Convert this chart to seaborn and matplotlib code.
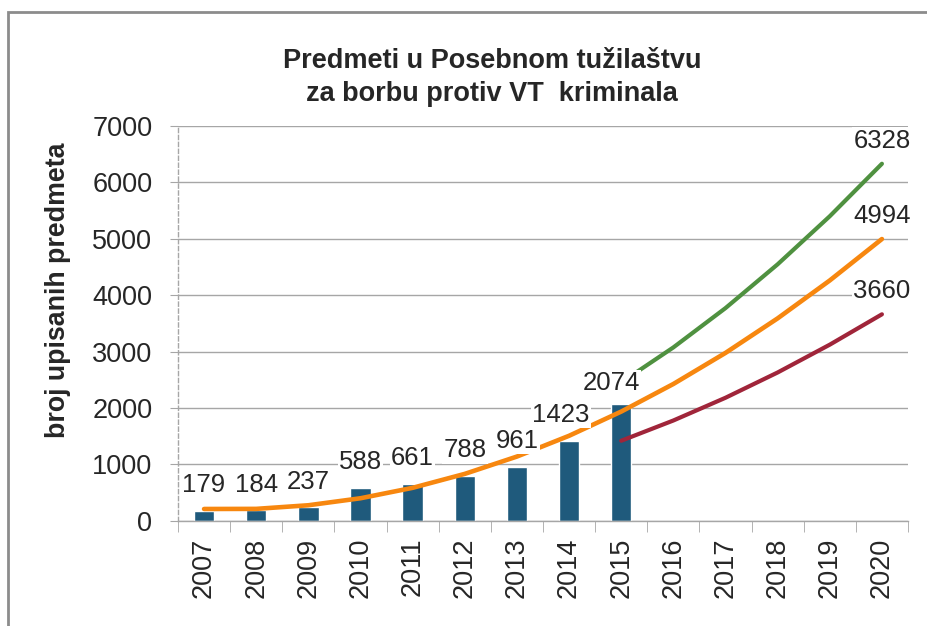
import pandas as pd
import numpy as np
import matplotlib
matplotlib.use("Agg")
import matplotlib.pyplot as plt
import seaborn as sns
from matplotlib.patches import Rectangle
from matplotlib.ticker import MultipleLocator

# ---------------------------------------------------
# DATA
# ---------------------------------------------------

all_years = ["2007", "2008", "2009", "2010", "2011", "2012", "2013",
             "2014", "2015", "2016", "2017", "2018", "2019", "2020"]

bar_years = ["2007", "2008", "2009", "2010", "2011", "2012", "2013",
             "2014", "2015"]
bar_values = [179, 184, 237, 588, 661, 788, 961, 1423, 2074]

# trend (middle)
trend_values = [210, 212, 276, 400, 585, 832, 1139, 1507, 1936,
                2425, 2976, 3588, 4260, 4994]

# upper / lower projection, 2015 - 2020
proj_years = ["2015", "2016", "2017", "2018", "2019", "2020"]
upper_values = [2452, 3073, 3770, 4546, 5398, 6328]
lower_values = [1419, 1778, 2181, 2629, 3122, 3660]

title = "Predmeti u Posebnom tužilaštvu\nza borbu protiv VT  kriminala"
ylabel = "broj upisanih predmeta"

# ---------------------------------------------------
# STYLE
# ---------------------------------------------------

sns.set_style("white")
plt.rcParams["font.family"] = ["Liberation Sans", "DejaVu Sans"]

bar_color = "#1f5a7c"
trend_color = "#f7870f"
upper_color = "#4f9140"
lower_color = "#a0253a"
grid_color = "#a6a6a6"

# labels moved aside so they do not sit on the lines (points)
label_nudge = {"2014": (-6, 0), "2015": (-7, -4)}

fig = plt.figure(figsize=(9.27, 6.26), dpi=100)
ax = fig.add_axes([0.192, 0.168, 0.7875, 0.631])

# ---------------------------------------------------
# BARS
# ---------------------------------------------------

df_bars = pd.DataFrame({"year": bar_years, "value": bar_values})

sns.barplot(
    data=df_bars,
    x="year",
    y="value",
    order=all_years,
    color=bar_color,
    saturation=1,
    width=0.39,
    ax=ax,
    zorder=2
)

# ---------------------------------------------------
# LINES
# ---------------------------------------------------

trend_pos = [all_years.index(y) for y in all_years]
proj_pos = [all_years.index(y) for y in proj_years]

sns.lineplot(x=trend_pos, y=trend_values, color=trend_color,
             linewidth=3.3, ax=ax, zorder=3)
sns.lineplot(x=proj_pos, y=upper_values, color=upper_color,
             linewidth=3, ax=ax, zorder=3)
sns.lineplot(x=proj_pos, y=lower_values, color=lower_color,
             linewidth=3, ax=ax, zorder=3)

# ---------------------------------------------------
# LABELS
# ---------------------------------------------------

box = dict(facecolor="white", edgecolor="none", pad=1)

for year, value in zip(bar_years, bar_values):
    dx, dy = label_nudge.get(year, (0, 0))
    ax.annotate(str(value), (all_years.index(year), value),
                xytext=(dx, 10 + dy), textcoords="offset points",
                ha="center", va="bottom", fontsize=18.5,
                bbox=box, zorder=5)

for series in [upper_values, trend_values, lower_values]:
    ax.annotate(str(series[-1]), (len(all_years) - 1, series[-1]),
                xytext=(0, 8), textcoords="offset points",
                ha="center", va="bottom", fontsize=18.5,
                bbox=box, zorder=5)

# ---------------------------------------------------
# AXES
# ---------------------------------------------------

ax.set_xlim(-0.5, len(all_years) - 0.5)
ax.set_ylim(0, 7000)
ax.yaxis.set_major_locator(MultipleLocator(1000))

ax.set_xticks(range(len(all_years)))
ax.set_xticklabels(all_years, rotation=90, fontsize=19.5)
ax.set_xticks(np.arange(-0.5, len(all_years)), minor=True)
ax.tick_params(axis="x", which="major", length=0, pad=12)
ax.tick_params(axis="x", which="minor", length=8, color=grid_color,
               direction="out", bottom=True)
ax.tick_params(axis="y", length=6, color=grid_color, direction="out",
               labelsize=19.5, pad=12.5, left=True)

ax.set_xlabel("")
ax.set_ylabel(ylabel, fontsize=19.3, fontweight="bold")
ax.yaxis.set_label_coords(-0.147, 0.585)

ax.grid(axis="y", color=grid_color, linewidth=1)
ax.set_axisbelow(True)

for side in ["top", "right"]:
    ax.spines[side].set_visible(False)
ax.spines["left"].set_color(grid_color)
ax.spines["left"].set_linestyle((0, (3, 2)))
ax.spines["left"].set_linewidth(1)
ax.spines["bottom"].set_color(grid_color)
ax.spines["bottom"].set_linewidth(1)

fig.suptitle(title, x=0.531, y=0.876, va="center", fontsize=19.5,
             fontweight="bold", linespacing=1.35)

# chart frame
fig.add_artist(Rectangle((8 / 927, -0.1), 1.2, 1.1 - 12 / 626,
                         transform=fig.transFigure, fill=False,
                         edgecolor="#8c8c8c", linewidth=2))

fig.savefig("out.png", dpi=100)
